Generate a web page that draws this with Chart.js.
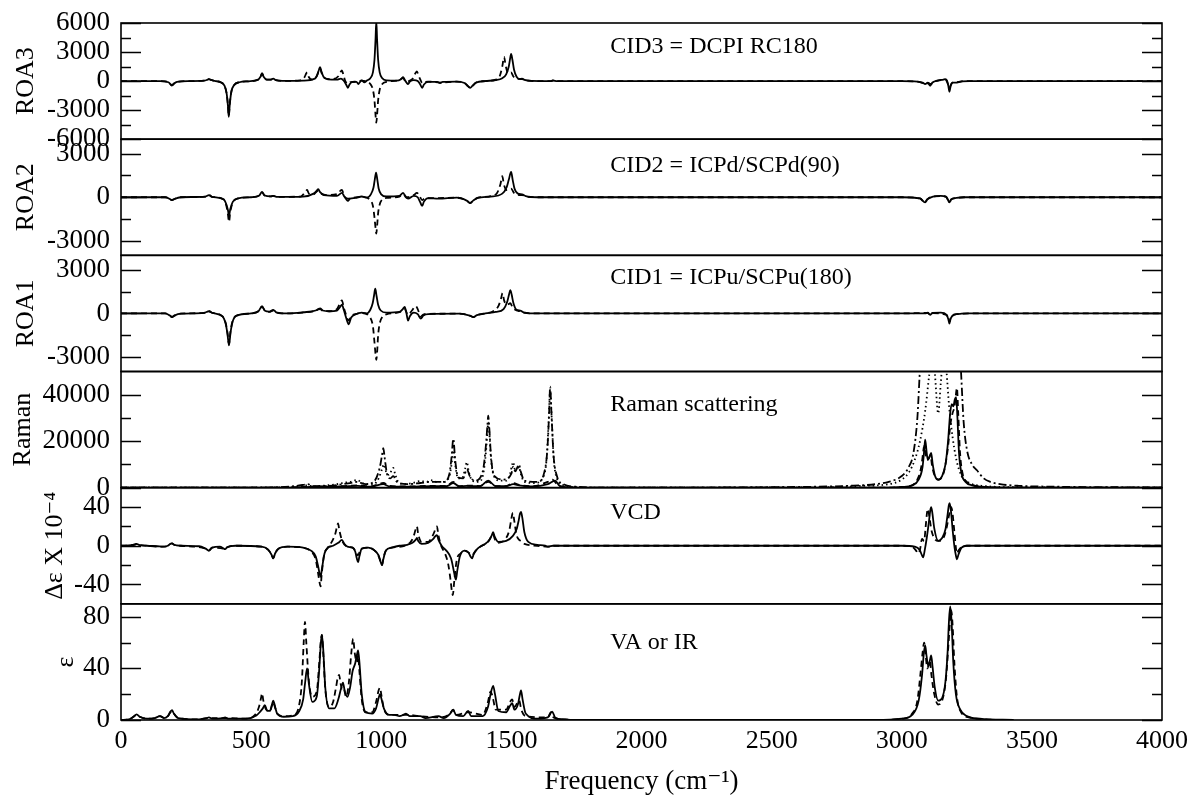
<!DOCTYPE html>
<html lang="en">
<head>
<meta charset="UTF-8">
<title>ROA / Raman / VCD / IR spectra</title>
<script src="https://cdn.jsdelivr.net/npm/chart.js@4.4.1/dist/chart.umd.min.js"></script>
<style>
  html, body { margin: 0; padding: 0; background: #fff; }
</style>
</head>
<body>
<canvas id="myChart" width="1194" height="796"></canvas>
<script>
// values, [frequency, intensity]
var roa3Solid = [[0,0],[150,0],[182,-120],[192,-380],[196,-450],[202,-300],[215,-80],[260,0],[320,40],[333,150],[338,200],[345,120],[360,20],[385,-150],[398,-500],[406,-1300],[411,-2600],[414,-3700],[418,-2400],[424,-1100],[435,-400],[455,-120],[490,-20],[525,120],[536,450],[542,800],[548,450],[560,150],[575,150],[585,250],[595,100],[620,20],[700,50],[745,250],[755,700],[761,1200],[765,1450],[770,1000],[778,450],[795,180],[830,150],[845,250],[855,60],[866,-400],[872,-700],[878,-350],[890,-80],[905,-80],[912,-300],[918,-100],[925,80],[935,-120],[945,50],[958,300],[968,900],[974,2200],[978,4300],[981,6200],[984,4300],[988,2200],[994,900],[1004,300],[1020,80],[1060,50],[1076,200],[1084,400],[1090,150],[1097,-150],[1103,-300],[1110,-50],[1125,100],[1140,0],[1150,-350],[1157,-700],[1164,-350],[1180,-80],[1215,-80],[1226,-200],[1236,-80],[1290,-50],[1320,-200],[1334,-550],[1342,-700],[1350,-500],[1365,-150],[1400,0],[1440,100],[1465,300],[1480,700],[1490,1500],[1495,2300],[1499,2800],[1504,2200],[1510,1200],[1520,450],[1532,200],[1541,250],[1550,120],[1580,20],[1650,0],[1660,60],[1675,0],[3000,0],[3060,-50],[3080,-150],[3090,-300],[3100,-200],[3109,-480],[3118,-150],[3140,80],[3160,150],[3167,200],[3174,50],[3179,-500],[3183,-1100],[3188,-500],[3196,-150],[3212,-150],[3230,-30],[3260,0],[4000,0]];
var roa3Dashed = [[0,0],[150,0],[182,-120],[192,-380],[196,-450],[202,-300],[215,-80],[260,0],[320,40],[333,150],[338,200],[345,120],[360,20],[385,-150],[398,-500],[406,-1300],[411,-2500],[414,-3600],[418,-2300],[424,-1100],[435,-400],[455,-120],[490,-20],[525,120],[536,450],[542,800],[548,450],[560,150],[575,150],[585,200],[595,100],[620,20],[690,80],[705,400],[712,800],[716,900],[722,400],[735,150],[752,500],[760,1100],[765,1300],[770,900],[780,350],[810,200],[835,500],[843,900],[849,1100],[855,600],[862,0],[872,-300],[882,-100],[905,-60],[925,50],[945,-50],[958,-300],[968,-900],[974,-2000],[978,-3500],[981,-4300],[984,-3500],[988,-2000],[994,-900],[1004,-300],[1020,-80],[1060,50],[1084,300],[1095,-100],[1110,50],[1122,300],[1131,800],[1137,1000],[1143,600],[1152,50],[1157,-200],[1165,-100],[1180,-50],[1226,-150],[1290,-50],[1320,-200],[1334,-550],[1342,-700],[1350,-500],[1365,-150],[1400,0],[1440,150],[1455,500],[1465,1500],[1472,2500],[1478,1600],[1488,800],[1499,900],[1507,500],[1520,250],[1541,200],[1560,50],[1600,0],[1650,0],[1660,60],[1675,0],[3000,0],[3060,-50],[3080,-200],[3090,-300],[3100,-150],[3110,-300],[3125,-50],[3150,100],[3167,150],[3176,-200],[3183,-700],[3190,-300],[3200,-100],[3212,-100],[3240,0],[4000,0]];

var roa2Solid = [[0,0],[170,0],[190,-150],[196,-200],[205,-120],[230,0],[325,50],[338,150],[350,30],[395,-150],[405,-500],[411,-900],[415,-1250],[420,-800],[430,-300],[450,-80],[500,0],[530,100],[542,350],[552,120],[575,60],[585,100],[600,20],[700,50],[740,250],[752,450],[758,550],[765,350],[780,150],[830,100],[849,300],[858,50],[866,-150],[872,-250],[880,-100],[900,-50],[925,50],[945,-30],[960,200],[970,650],[975,1200],[980,1700],[985,1200],[990,600],[1000,200],[1020,50],[1070,100],[1084,300],[1094,0],[1103,-100],[1125,100],[1140,0],[1150,-350],[1157,-600],[1164,-300],[1180,-60],[1220,-100],[1290,-30],[1330,-250],[1341,-400],[1352,-250],[1370,-50],[1420,50],[1465,250],[1482,700],[1490,1200],[1499,1750],[1505,1200],[1512,600],[1525,250],[1541,200],[1555,80],[1600,0],[3000,0],[3070,-80],[3084,-300],[3090,-350],[3098,-150],[3120,50],[3150,100],[3170,50],[3178,-200],[3183,-350],[3190,-150],[3210,-50],[3240,0],[4000,0]];
var roa2Dashed = [[0,0],[170,0],[190,-150],[196,-200],[205,-120],[230,0],[325,50],[338,150],[350,30],[395,-150],[405,-600],[411,-1200],[415,-1700],[420,-1000],[430,-350],[450,-80],[500,0],[530,100],[542,350],[552,120],[575,60],[585,100],[600,20],[690,50],[708,350],[715,500],[722,250],[740,200],[752,400],[758,450],[765,300],[790,150],[835,250],[843,450],[849,500],[856,200],[864,-50],[872,-100],[885,-50],[925,30],[958,-200],[968,-600],[974,-1400],[978,-2100],[981,-2500],[984,-2000],[988,-1100],[994,-500],[1004,-150],[1020,-50],[1070,50],[1084,200],[1100,0],[1125,150],[1137,300],[1147,100],[1157,-200],[1167,-80],[1220,-60],[1290,-30],[1330,-250],[1341,-400],[1352,-250],[1370,-50],[1420,80],[1445,300],[1458,900],[1465,1450],[1471,900],[1482,500],[1499,600],[1510,300],[1530,150],[1541,150],[1560,40],[1600,0],[3000,0],[3070,-80],[3084,-300],[3090,-350],[3098,-150],[3120,50],[3150,80],[3170,30],[3178,-200],[3183,-350],[3190,-150],[3210,-50],[3240,0],[4000,0]];

var roa1Solid = [[0,0],[170,0],[188,-150],[196,-250],[205,-150],[230,-20],[320,40],[338,150],[352,30],[390,-200],[402,-700],[409,-1400],[415,-2200],[421,-1300],[430,-500],[450,-120],[500,0],[528,150],[542,500],[553,180],[570,120],[585,250],[598,60],[640,0],[700,80],[748,200],[758,300],[765,350],[775,200],[800,150],[830,200],[842,450],[849,600],[856,250],[865,-300],[875,-750],[884,-300],[900,-80],[925,50],[945,0],[958,250],[967,700],[972,1200],[977,1700],[982,1200],[988,600],[998,200],[1020,50],[1070,100],[1083,300],[1090,450],[1096,100],[1103,-500],[1110,-200],[1125,50],[1140,-50],[1152,-350],[1162,-150],[1180,-50],[1300,-20],[1340,-150],[1354,-250],[1368,-120],[1400,0],[1440,100],[1470,300],[1484,800],[1491,1300],[1496,1600],[1501,1300],[1508,700],[1520,250],[1534,200],[1548,60],[1600,0],[3000,0],[3090,0],[3100,50],[3109,-100],[3118,30],[3150,50],[3172,-100],[3179,-400],[3183,-700],[3188,-350],[3200,-100],[3230,-20],[3260,0],[4000,0]];
var roa1Dashed = [[0,0],[170,0],[188,-150],[196,-250],[205,-150],[230,-20],[320,40],[338,150],[352,30],[390,-200],[402,-650],[409,-1300],[415,-2100],[421,-1200],[430,-450],[450,-120],[500,0],[528,150],[542,450],[553,180],[570,100],[585,200],[598,60],[640,0],[700,60],[748,180],[758,270],[765,300],[775,180],[800,150],[830,300],[840,650],[849,900],[856,400],[865,-100],[875,-500],[884,-200],[900,-50],[925,30],[958,-300],[968,-900],[974,-2000],[978,-2800],[981,-3200],[984,-2700],[988,-1500],[994,-700],[1004,-250],[1020,-60],[1070,80],[1090,300],[1103,-100],[1118,200],[1128,450],[1133,500],[1140,300],[1152,-200],[1162,-80],[1180,-30],[1300,-20],[1340,-150],[1354,-250],[1368,-120],[1400,0],[1430,150],[1450,500],[1460,1000],[1466,1400],[1472,900],[1484,600],[1496,700],[1505,400],[1520,200],[1534,150],[1548,50],[1600,0],[3000,0],[3100,30],[3109,-80],[3118,20],[3172,-100],[3179,-350],[3183,-600],[3188,-300],[3200,-80],[3230,-20],[3260,0],[4000,0]];

var ramanSolid = [[0,0],[600,0],[700,200],[760,400],[850,500],[910,800],[960,400],[1008,1500],[1030,600],[1100,400],[1190,700],[1250,600],[1277,2000],[1300,500],[1330,800],[1380,600],[1411,3000],[1440,600],[1480,600],[1507,1500],[1530,1000],[1580,500],[1640,1500],[1668,3000],[1685,800],[1720,100],[1800,0],[2950,0],[3000,300],[3040,1000],[3065,3500],[3080,9000],[3087,17000],[3090,20700],[3095,16000],[3100,12000],[3107,13500],[3113,15000],[3119,10000],[3128,5000],[3140,3400],[3155,5000],[3168,10000],[3178,20000],[3186,32000],[3192,36000],[3198,35000],[3204,38000],[3209,39000],[3214,30000],[3220,15000],[3230,6000],[3245,2500],[3270,1000],[3320,300],[3400,0],[4000,0]];
var ramanDashed = [[0,0],[600,0],[700,300],[760,500],[850,700],[910,1000],[960,500],[1008,2000],[1030,800],[1100,500],[1190,800],[1250,700],[1277,2500],[1300,600],[1330,900],[1380,700],[1411,2500],[1440,700],[1480,700],[1507,2000],[1530,1200],[1580,600],[1640,2500],[1658,3500],[1680,900],[1720,100],[1800,0],[2950,0],[3000,300],[3040,1000],[3060,3500],[3075,9000],[3082,15000],[3086,18000],[3092,14000],[3100,12000],[3106,13000],[3110,14000],[3117,9000],[3127,5000],[3140,3500],[3160,6000],[3175,15000],[3188,28000],[3195,32000],[3203,35000],[3208,40000],[3212,43000],[3217,32000],[3224,15000],[3234,6000],[3250,2500],[3280,900],[3330,300],[3400,0],[4000,0]];
var ramanDotted = [[0,0],[500,0],[650,300],[700,800],[716,1000],[740,500],[790,1000],[830,1500],[850,2000],[880,2500],[907,3300],[930,1800],[970,1500],[990,4000],[1003,8000],[1010,10000],[1018,7000],[1030,5500],[1040,7500],[1046,8500],[1053,6000],[1065,2500],[1090,1500],[1120,2000],[1150,2800],[1175,2500],[1190,3200],[1215,2500],[1240,2500],[1262,5000],[1270,10000],[1277,16000],[1284,10000],[1295,4000],[1310,4000],[1322,8000],[1329,11000],[1336,7000],[1350,3000],[1375,2500],[1392,6000],[1402,15000],[1408,24000],[1411,28000],[1415,24000],[1422,12000],[1435,4500],[1460,3000],[1480,3000],[1495,6000],[1503,10000],[1507,11000],[1514,8000],[1522,8000],[1529,9000],[1536,6000],[1550,2500],[1590,2000],[1620,4000],[1635,12000],[1643,28000],[1649,42000],[1655,30000],[1663,12000],[1675,4000],[1700,1000],[1740,300],[1800,0],[2700,200],[2850,800],[2950,1500],[3000,3500],[3030,7000],[3050,12000],[3070,20000],[3090,33000],[3105,48000],[3118,60000],[3128,48000],[3140,32000],[3150,45000],[3162,60000],[3172,50000],[3182,35000],[3195,22000],[3210,12000],[3230,5000],[3260,2000],[3320,700],[3450,200],[4000,0]];
var ramanDashDot = [[0,0],[500,0],[650,500],[700,1200],[716,1500],[740,700],[800,800],[850,1500],[880,2000],[907,2500],[940,1500],[975,3000],[995,9000],[1003,14000],[1008,17000],[1013,13000],[1022,6000],[1035,4000],[1046,5000],[1060,2500],[1100,1500],[1150,2000],[1190,2500],[1240,2500],[1262,6000],[1270,13000],[1277,21000],[1284,12000],[1295,4500],[1315,4000],[1329,8000],[1340,5000],[1360,3000],[1390,7000],[1402,18000],[1408,27000],[1411,31000],[1415,26000],[1422,13000],[1435,5000],[1470,3500],[1500,6000],[1507,9000],[1515,7000],[1522,8500],[1529,10000],[1536,7000],[1550,3000],[1600,2500],[1625,6000],[1638,16000],[1645,32000],[1649,43500],[1654,32000],[1662,14000],[1675,5000],[1700,1500],[1750,400],[1850,0],[2600,300],[2800,800],[2900,1500],[2950,2500],[3000,5000],[3025,8500],[3045,15000],[3060,30000],[3072,55000],[3085,70000],[3100,60000],[3140,55000],[3180,60000],[3210,70000],[3225,55000],[3238,28000],[3251,16000],[3270,10000],[3289,7500],[3315,4000],[3340,2500],[3378,1500],[3450,800],[3600,400],[3800,200],[4000,100]];

var vcdSolid = [[0,0],[40,0.5],[55,1.5],[60,2],[68,1],[100,0],[140,-0.5],[160,-1],[180,0],[190,2],[196,2.5],[204,1],[230,0],[300,-0.5],[325,-3],[338,-5],[350,-2],[380,-1],[395,-3],[400,-3.5],[408,-1.5],[440,0],[540,-1],[565,-4],[578,-9],[585,-13],[592,-8],[605,-3],[640,-1],[700,-2],[730,-5],[748,-11],[758,-22],[764,-30],[767,-32],[772,-24],[782,-8],[795,-2],[815,0],[835,3],[849,6],[858,2],[870,-1],[890,-2],[900,-6],[906,-13],[911,-17],[916,-11],[925,-3],[950,-2],[975,-5],[990,-10],[998,-17],[1003,-20],[1008,-14],[1018,-5],[1040,-2],[1070,0],[1100,1],[1120,3],[1132,6],[1137,8],[1142,5],[1155,2],[1180,3],[1200,7],[1208,10],[1214,11],[1220,6],[1232,0],[1250,-5],[1268,-13],[1278,-25],[1284,-33],[1287,-35],[1292,-26],[1302,-11],[1320,-5],[1335,-7],[1343,-11],[1349,-13],[1355,-9],[1370,-3],[1400,2],[1415,6],[1425,11],[1430,14],[1435,10],[1450,4],[1480,5],[1505,10],[1520,17],[1528,26],[1533,33],[1537,35],[1542,29],[1550,14],[1565,4],[1600,1],[1630,0],[1641,-1],[1660,0],[3000,0],[3050,-1],[3068,-4],[3078,-10],[3082,-12],[3088,-5],[3096,8],[3104,24],[3110,37],[3113,40],[3117,35],[3125,18],[3140,5],[3155,8],[3168,17],[3176,32],[3181,42],[3184,44],[3189,36],[3196,15],[3203,-2],[3208,-10],[3212,-14],[3218,-9],[3230,-2],[3250,0],[4000,0]];
var vcdDashed = [[0,0],[40,0.5],[55,1.5],[60,2],[68,1],[100,0],[160,-1],[180,0],[190,2],[196,2.5],[204,1],[230,0],[325,-3],[338,-5],[350,-2],[395,-3],[400,-3.5],[408,-1.5],[440,0],[540,-1],[565,-4],[578,-9],[585,-13],[592,-8],[605,-3],[640,-1],[700,-2],[730,-6],[748,-14],[756,-26],[763,-38],[767,-42],[771,-30],[780,-10],[795,-2],[812,5],[824,13],[830,20],[834,23],[839,16],[850,5],[870,-1],[890,-2],[900,-5],[911,-10],[920,-4],[950,-2],[975,-5],[990,-11],[998,-17],[1003,-20],[1008,-13],[1018,-5],[1040,-2],[1100,1],[1118,6],[1128,13],[1133,18],[1137,20],[1142,12],[1155,4],[1180,4],[1195,9],[1205,15],[1210,19],[1214,20],[1219,12],[1230,0],[1245,-8],[1258,-20],[1266,-35],[1272,-48],[1275,-51],[1280,-38],[1290,-15],[1305,-8],[1320,-5],[1340,-8],[1349,-10],[1360,-6],[1380,-1],[1410,4],[1422,9],[1430,12],[1436,7],[1450,3],[1480,8],[1492,16],[1500,28],[1504,33],[1506,34],[1511,26],[1520,11],[1530,6],[1537,5],[1550,2],[1600,0],[1641,-1],[1660,0],[3000,0],[3040,-1],[3055,-5],[3063,-8],[3070,-4],[3078,7],[3086,5],[3092,20],[3097,34],[3100,38],[3105,32],[3115,15],[3140,5],[3160,8],[3172,18],[3182,32],[3187,38],[3190,40],[3195,34],[3203,12],[3208,-2],[3212,-8],[3218,-5],[3230,-1],[3250,0],[4000,0]];

var irSolid = [[0,0],[30,0.5],[48,2.5],[60,4.4],[72,2.5],[100,1],[130,1.5],[150,3],[165,1.5],[180,3],[190,6.5],[196,7.7],[203,5],[220,1.5],[300,0.5],[330,1.5],[338,2],[350,1],[390,1.5],[400,2],[410,1],[480,1],[520,3.5],[535,6.5],[545,9],[553,11.6],[562,7],[572,7],[580,12],[585,15],[590,12],[600,5],[625,2.5],[660,3],[685,7],[700,16],[708,30],[715,40],[722,28],[735,14],[752,18],[762,40],[768,60],[772,66],[777,55],[785,25],[800,9],[820,9],[835,16],[845,24],[853,29],[860,22],[870,18],[880,25],[890,38],[900,44],[906,50],[911,54],[916,45],[925,20],[940,6],[965,5],[980,9],[990,17],[995,20],[1000,17],[1010,9],[1030,4],[1050,4],[1070,3],[1085,4],[1095,5],[1110,3],[1150,3],[1170,1.5],[1220,3],[1240,1.5],[1265,5],[1276,8],[1287,4],[1315,3],[1334,7],[1345,3],[1390,3],[1410,10],[1420,20],[1430,26.5],[1437,20],[1450,7],[1480,6],[1495,11],[1503,13],[1512,8],[1525,12],[1532,19],[1537,23],[1543,16],[1555,5],[1600,1],[1640,2],[1657,6.5],[1668,2],[1700,0.5],[1750,0],[2900,0],[3000,1],[3040,4],[3065,15],[3078,35],[3085,52],[3090,58],[3095,50],[3102,42],[3108,46],[3113,50],[3118,42],[3127,25],[3140,15],[3155,17],[3168,30],[3176,52],[3181,75],[3186,88],[3191,78],[3198,45],[3208,20],[3225,8],[3250,3],[3300,1],[3430,0]];
var irDashed = [[0,0],[30,0.5],[48,2.5],[60,4],[72,2.5],[100,1],[130,1.5],[150,3],[165,1.5],[180,3],[190,6],[196,7],[203,5],[220,1.5],[300,0.5],[338,1.5],[400,1.5],[480,1],[515,4],[530,10],[538,17],[542,20.7],[547,15],[558,8],[572,7],[580,11],[585,14],[590,11],[600,5],[625,3],[665,4],[685,12],[695,30],[702,60],[707,76],[712,60],[722,30],[735,18],[752,22],[762,45],[768,62],[772,66],[777,52],[785,24],[800,10],[815,14],[826,25],[833,33],[838,35],[844,28],[850,24],[855,25],[865,18],[875,28],[885,52],[892,63],[898,52],[906,45],[911,50],[916,38],[925,16],[940,6],[965,6],[980,14],[990,23],[995,25],[1000,20],[1010,9],[1030,4],[1085,4],[1095,4],[1150,3],[1220,2],[1265,5],[1276,8],[1287,4],[1334,6],[1390,4],[1410,14],[1420,22],[1428,18],[1440,8],[1480,8],[1495,14],[1503,16],[1512,10],[1522,13],[1530,15],[1538,8],[1555,3],[1640,2],[1652,6],[1662,2],[1700,0.5],[1750,0],[2900,0],[3000,1],[3040,5],[3060,15],[3073,38],[3080,52],[3086,60],[3092,50],[3098,40],[3104,43],[3108,46],[3114,35],[3125,20],[3140,12],[3155,15],[3170,32],[3180,60],[3186,78],[3190,85],[3195,75],[3202,45],[3212,18],[3228,6],[3260,2],[3320,0.5],[3420,0]];

// tick labels (major) and minor tick positions for each panel
var roa3Ticks = [-6000, -3000, 0, 3000, 6000];
var roa3Minor = [-4500, -1500, 1500, 4500];
var roaTicks = [-3000, 0, 3000];
var roaMinor = [-1500, 1500];
var ramanTicks = [0, 20000, 40000];
var ramanMinor = [10000, 30000];
var vcdTicks = [-40, 0, 40];
var vcdMinor = [-20, 20];
var irTicks = [0, 40, 80];
var irMinor = [20, 60];
var freqTicks = [0, 500, 1000, 1500, 2000, 2500, 3000, 3500, 4000];

var panelTitles = ['ROA3', 'ROA2', 'ROA1', 'Raman', 'Δε X 10⁻⁴', 'ε'];
var panelNotes = ['CID3 = DCPI RC180', 'CID2 = ICPd/SCPd(90)', 'CID1 = ICPu/SCPu(180)', 'Raman scattering', 'VCD', 'VA or IR'];

var FONT = '"Liberation Serif", "Times New Roman", "DejaVu Serif", serif';
var DASH = { solid: [], dashed: [6, 4], dotted: [1.5, 3], dashdot: [8, 3, 2, 3] };

var panels = [
  { id: 'roa3', min: -6000, max: 6000, ticks: roa3Ticks, minor: roa3Minor, titlePad: 11, noteDy: 24,
    series: [[roa3Solid, 'solid'], [roa3Dashed, 'dashed']] },
  { id: 'roa2', min: -4000, max: 4000, ticks: roaTicks, minor: roaMinor, titlePad: 11, noteDy: 27,
    series: [[roa2Solid, 'solid'], [roa2Dashed, 'dashed']] },
  { id: 'roa1', min: -4000, max: 4000, ticks: roaTicks, minor: roaMinor, titlePad: 11, noteDy: 22,
    series: [[roa1Solid, 'solid'], [roa1Dashed, 'dashed']] },
  { id: 'raman', min: 0, max: 50000, ticks: ramanTicks, minor: ramanMinor, titlePad: 8, noteDy: 33,
    series: [[ramanDotted, 'dotted'], [ramanDashDot, 'dashdot'], [ramanDashed, 'dashed'], [ramanSolid, 'solid']] },
  { id: 'vcd', min: -60, max: 60, ticks: vcdTicks, minor: vcdMinor, titlePad: 40, noteDy: 25,
    series: [[vcdDashed, 'dashed'], [vcdSolid, 'solid']] },
  { id: 'ir', min: 0, max: 90, ticks: irTicks, minor: irMinor, titlePad: 51, noteDy: 39,
    series: [[irDashed, 'dashed'], [irSolid, 'solid']] }
];

function plainLabel(v) { return String(v); }

var datasets = [];
var scales = {
  x: {
    type: 'linear', position: 'bottom', min: 0, max: 4000,
    afterBuildTicks: function (s) { s.ticks = freqTicks.map(function (v) { return { value: v }; }); },
    afterFit: function (s) { s.height = 76; s.paddingLeft = 0; s.paddingRight = 0; },
    grid: { display: false, drawTicks: false },
    border: { display: false },
    ticks: { font: { family: FONT, size: 26 }, color: '#000', padding: 6, maxRotation: 0, autoSkip: false, callback: plainLabel },
    title: { display: true, text: 'Frequency (cm⁻¹)', color: '#000', font: { family: FONT, size: 27 }, padding: { top: 0, bottom: -2 } }
  }
};

panels.forEach(function (p, i) {
  p.series.forEach(function (s) {
    datasets.push({
      data: s[0].map(function (d) { return { x: d[0], y: d[1] }; }),
      yAxisID: p.id,
      borderColor: '#000',
      borderWidth: 1.8,
      borderDash: DASH[s[1]],
      pointRadius: 0,
      fill: false,
      cubicInterpolationMode: 'monotone'
    });
  });
  scales[p.id] = {
    type: 'linear', position: 'left', stack: 'panels', stackWeight: 1, weight: panels.length - i,
    min: p.min, max: p.max,
    afterBuildTicks: function (s) { s.ticks = p.ticks.map(function (v) { return { value: v }; }); },
    afterFit: function (s) { s.width = 121; s.paddingTop = 0; s.paddingBottom = 0; },
    grid: { display: false, drawTicks: false },
    border: { display: false },
    ticks: { font: { family: FONT, size: 27 }, color: '#000', padding: 11, autoSkip: false, callback: plainLabel },
    title: { display: true, text: panelTitles[i], color: '#000', font: { family: FONT, size: 26 }, padding: { top: p.titlePad, bottom: 0 } }
  };
});

// each line is clipped to its own panel; frames, inward ticks and notes drawn on top
var panelFrames = {
  id: 'panelFrames',
  beforeDatasetDraw: function (chart, args) {
    var s = chart.scales[chart.data.datasets[args.index].yAxisID];
    var a = chart.chartArea;
    var ctx = chart.ctx;
    ctx.save();
    ctx.beginPath();
    ctx.rect(a.left, s.top, a.right - a.left, s.bottom - s.top);
    ctx.clip();
  },
  afterDatasetDraw: function (chart) {
    chart.ctx.restore();
  },
  afterDraw: function (chart) {
    var ctx = chart.ctx;
    var a = chart.chartArea;
    var xs = chart.scales.x;
    ctx.save();
    ctx.strokeStyle = '#000';
    ctx.fillStyle = '#000';
    ctx.lineWidth = 1.6;
    panels.forEach(function (p, i) {
      var s = chart.scales[p.id];
      ctx.strokeRect(a.left, s.top, a.right - a.left, s.bottom - s.top);
      ctx.beginPath();
      [[p.ticks, 20], [p.minor, 10]].forEach(function (t) {
        t[0].forEach(function (v) {
          var y = Math.round(s.getPixelForValue(v)) + 0.5;
          ctx.moveTo(a.left, y); ctx.lineTo(a.left + t[1], y);
          ctx.moveTo(a.right, y); ctx.lineTo(a.right - t[1], y);
        });
      });
      ctx.stroke();
      ctx.font = '24px ' + FONT;
      ctx.textBaseline = 'middle';
      ctx.textAlign = 'left';
      ctx.fillText(panelNotes[i], xs.getPixelForValue(1880), s.top + p.noteDy);
    });
    ctx.restore();
  }
};

new Chart(document.getElementById('myChart'), {
  type: 'line',
  data: { datasets: datasets },
  options: {
    responsive: false,
    animation: false,
    devicePixelRatio: 1,
    layout: { padding: { top: 23, right: 32, left: 0, bottom: 0 } },
    plugins: { legend: { display: false }, tooltip: { enabled: false } },
    scales: scales
  },
  plugins: [panelFrames]
});
</script>
</body>
</html>
